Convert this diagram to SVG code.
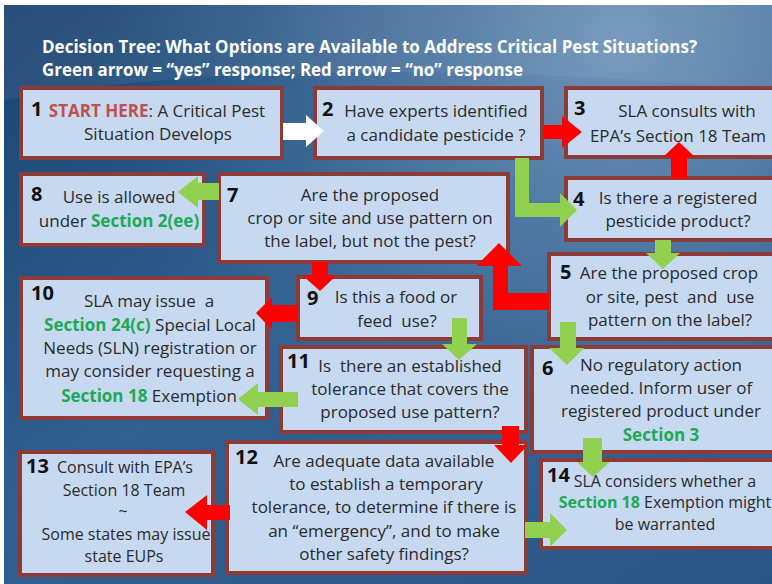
<svg xmlns="http://www.w3.org/2000/svg" width="772" height="584" viewBox="0 0 772 584">
  <defs>
    <linearGradient id="bgBase" x1="0" y1="0" x2="1" y2="1">
      <stop offset="0" stop-color="#1b4472"/>
      <stop offset="0.45" stop-color="#2f6090"/>
      <stop offset="1" stop-color="#2a5686"/>
    </linearGradient>
    <radialGradient id="bgGlow" cx="620" cy="40" r="520" gradientUnits="userSpaceOnUse">
      <stop offset="0" stop-color="#7d9fc3" stop-opacity="0.85"/>
      <stop offset="0.55" stop-color="#5f86b0" stop-opacity="0.45"/>
      <stop offset="1" stop-color="#3a6a9a" stop-opacity="0"/>
    </radialGradient>
    <style>
      .box { fill: #c6d9f1; stroke: #8e3a37; stroke-width: 4; }
      text { font-family: "Open Sans", "Liberation Sans", sans-serif; fill: #2b2b2b; }
      .t { font-size: 17px; text-anchor: middle; }
      .s { font-size: 16px; text-anchor: middle; }
      .num { font-size: 20px; font-weight: bold; fill: #111; }
      .g { font-weight: bold; fill: #1daa55; }
      .r { font-weight: bold; fill: #c0504d; }
      .title { font-size: 17.5px; font-weight: bold; fill: #ffffff; }
      .yes { fill: #92d050; }
      .no { fill: #ff0000; }
      .start { fill: #ffffff; }
    </style>
  </defs>

  <!-- backdrop -->
  <rect x="0" y="0" width="772" height="584" fill="#ffffff"/>
  <rect x="4" y="5" width="768" height="579" fill="url(#bgBase)"/>
  <rect x="4" y="5" width="768" height="579" fill="url(#bgGlow)"/>
  <path d="M4,100 C180,70 420,60 772,90 L772,5 L4,5 Z" fill="#ffffff" opacity="0.06"/>

  <!-- heading -->
  <text class="title" x="42" y="53" textLength="655" lengthAdjust="spacingAndGlyphs">Decision Tree: What Options are Available to Address Critical Pest Situations?</text>
  <text class="title" x="42" y="76" textLength="481" lengthAdjust="spacingAndGlyphs">Green arrow = “yes” response; Red arrow = “no” response</text>

  <!-- nodes -->
  <g id="node1">
    <rect class="box" x="21" y="88" width="261" height="70"/>
    <text class="num" x="31" y="116">1</text>
    <text class="t" x="157" y="117"><tspan class="r">START HERE</tspan>: A Critical Pest</text>
    <text class="t" x="158" y="140">Situation Develops</text>
  </g>

  <g id="node2">
    <rect class="box" x="315" y="88" width="227" height="70"/>
    <text class="num" x="322" y="116">2</text>
    <text class="t" x="436" y="117">Have experts identified</text>
    <text class="t" x="436" y="141">a candidate pesticide ?</text>
  </g>

  <g id="node3">
    <rect class="box" x="566" y="88" width="230" height="69"/>
    <text class="num" x="574" y="115">3</text>
    <text class="t" x="687" y="117">SLA consults with</text>
    <text class="t" x="678" y="142">EPA’s Section 18 Team</text>
  </g>

  <g id="node4">
    <rect class="box" x="566" y="178" width="230" height="62"/>
    <text class="num" x="573" y="206">4</text>
    <text class="t" x="678" y="204">Is there a registered</text>
    <text class="t" x="678" y="227">pesticide product?</text>
  </g>

  <g id="node5">
    <rect class="box" x="549" y="254" width="247" height="85"/>
    <text class="num" x="560" y="279">5</text>
    <text class="t" x="669" y="279">Are the proposed crop</text>
    <text class="t" x="670" y="303" xml:space="preserve">or site, pest  and  use</text>
    <text class="t" x="670" y="326">pattern on the label?</text>
  </g>

  <g id="node6">
    <rect class="box" x="532" y="347" width="264" height="105"/>
    <text class="num" x="542" y="375">6</text>
    <text class="t" x="661" y="371">No regulatory action</text>
    <text class="t" x="661" y="394">needed. Inform user of</text>
    <text class="t" x="661" y="417">registered product under</text>
    <text class="t g" x="661" y="441">Section 3</text>
  </g>

  <g id="node7">
    <rect class="box" x="219" y="174" width="289" height="88"/>
    <text class="num" x="227" y="202">7</text>
    <text class="t" x="370" y="201">Are the proposed</text>
    <text class="t" x="370" y="224">crop or site and use pattern on</text>
    <text class="t" x="370" y="247">the label, but not the pest?</text>
  </g>

  <g id="node8">
    <rect class="box" x="21" y="174" width="183" height="71"/>
    <text class="num" x="31" y="201">8</text>
    <text class="t" x="119" y="203">Use is allowed</text>
    <text class="t" x="119" y="227">under <tspan class="g">Section 2(ee)</tspan></text>
  </g>

  <g id="node9">
    <rect class="box" x="298" y="277" width="183" height="62"/>
    <text class="num" x="307" y="305">9</text>
    <text class="t" x="396" y="303">Is this a food or</text>
    <text class="t" x="397" y="327" xml:space="preserve">feed  use?</text>
  </g>

  <g id="node10">
    <rect class="box" x="21" y="278" width="246" height="140"/>
    <text class="num" x="31" y="300">10</text>
    <text class="t" x="149" y="307" xml:space="preserve">SLA may issue  a</text>
    <text class="t" x="150" y="331"><tspan class="g">Section 24(c)</tspan> Special Local</text>
    <text class="t" x="150" y="354">Needs (SLN) registration or</text>
    <text class="t" x="150" y="377">may consider requesting a</text>
    <text class="t" x="149" y="402"><tspan class="g">Section 18</tspan> Exemption</text>
  </g>

  <g id="node11">
    <rect class="box" x="281" y="347" width="245" height="85"/>
    <text class="num" x="287" y="368">11</text>
    <text class="t" x="410" y="372" xml:space="preserve">Is  there an established</text>
    <text class="t" x="410" y="395">tolerance that covers the</text>
    <text class="t" x="410" y="418">proposed use pattern?</text>
  </g>

  <g id="node12">
    <rect class="box" x="227" y="442" width="299" height="131"/>
    <text class="num" x="235" y="464">12</text>
    <text class="t" x="384" y="467">Are adequate data available</text>
    <text class="t" x="386" y="490">to establish a temporary</text>
    <text class="t" x="384" y="513">tolerance, to determine if there is</text>
    <text class="t" x="384" y="537">an “emergency”, and to make</text>
    <text class="t" x="384" y="560">other safety findings?</text>
  </g>

  <g id="node13">
    <rect class="box" x="20" y="452" width="193" height="123"/>
    <text class="num" x="26" y="473">13</text>
    <text class="s" x="125" y="473">Consult with EPA’s</text>
    <text class="s" x="124" y="496">Section 18 Team</text>
    <text class="s" x="123" y="517">~</text>
    <text class="s" x="126" y="540">Some states may issue</text>
    <text class="s" x="124" y="562">state EUPs</text>
  </g>

  <g id="node14">
    <rect class="box" x="541" y="460" width="255" height="88"/>
    <text class="num" x="547" y="482">14</text>
    <text class="s" x="665" y="487">SLA considers whether a</text>
    <text class="s" x="665" y="508"><tspan class="g">Section 18</tspan> Exemption might</text>
    <text class="s" x="665" y="530">be warranted</text>
  </g>

  <!-- connectors: block arrows, green = yes, red = no -->
  <g id="connectors">
    <polygon class="start" points="283,123 306,123 306,115 324,131 306,147 306,140 283,140"/>
    <polygon class="no" points="543,125 562,125 562,116 582,132 562,148 562,139 543,139"/>
    <polygon class="yes" points="515,158 529,158 529,203 560,203 560,193 577,210 560,227 560,217 515,217"/>
    <polygon class="no" points="671,179 671,157 663,157 679,142 695,157 687,157 687,179"/>
    <polygon class="yes" points="219,183 198,183 198,176 178,192 198,208 198,200 219,200"/>
    <polygon class="yes" points="655,240 671,240 671,253 680,253 663,269 646,253 655,253"/>
    <polygon class="no" points="549,293 508,293 508,266 522,266 499,243 476,266 493,266 493,310 549,310"/>
    <polygon class="no" points="312,262 328,262 328,275 337,275 320,291 302,275 312,275"/>
    <polygon class="no" points="298,305 272,305 272,297 256,313 272,330 272,322 298,322"/>
    <polygon class="yes" points="452,318 467,318 467,344 477,344 459,360 442,344 452,344"/>
    <polygon class="yes" points="560,322 576,322 576,348 584,348 567,365 549,348 560,348"/>
    <polygon class="yes" points="298,392 258,392 258,383 238,399 258,415 258,407 298,407"/>
    <polygon class="no" points="502,426 519,426 519,445 528,445 511,463 494,445 502,445"/>
    <polygon class="no" points="230,505 207,505 207,495 185,512 207,530 207,520 230,520"/>
    <polygon class="yes" points="525,522 550,522 550,513 567,530 550,547 550,538 525,538"/>
    <polygon class="yes" points="583,438 602,438 602,462 610,462 593,477 577,462 583,462"/>
  </g>
</svg>
